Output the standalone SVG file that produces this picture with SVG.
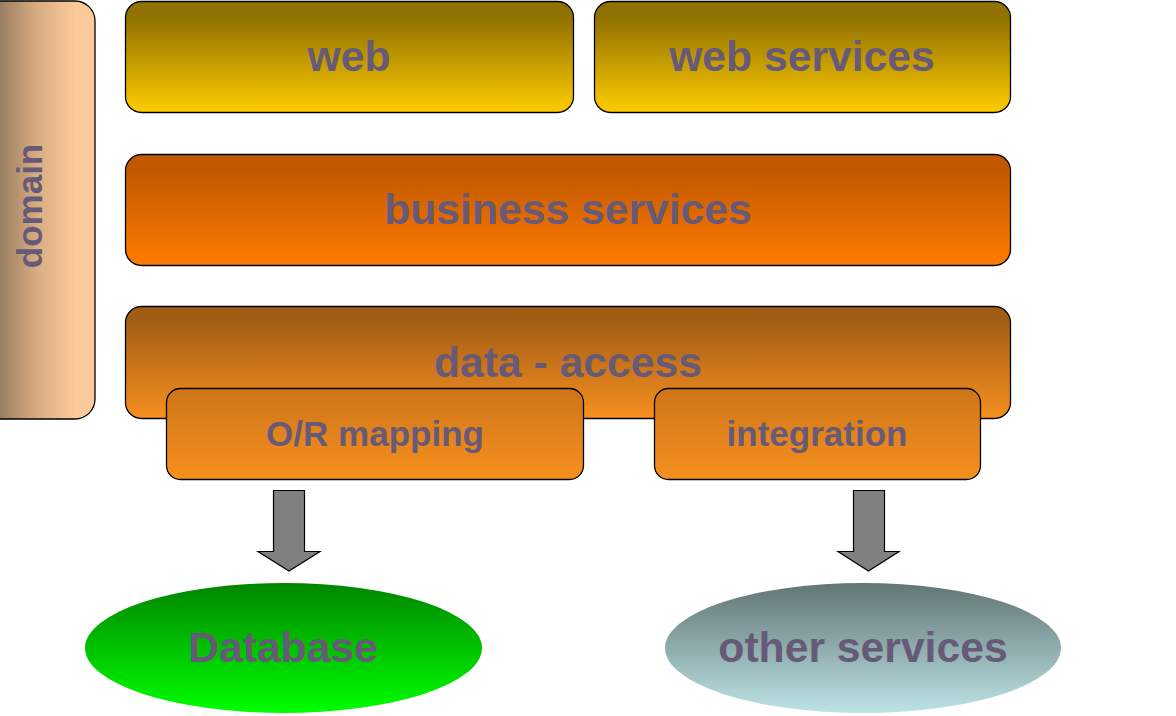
<svg xmlns="http://www.w3.org/2000/svg" width="1176" height="716" viewBox="0 0 1176 716">
<style>
.box{stroke:#000;stroke-width:1.3}
.t{font-family:"Liberation Sans",Arial,sans-serif;font-weight:bold;fill:#675a78;text-anchor:middle}
.big{font-size:42.67px}
.mid{font-size:35px}
.arrow{fill:#808080;stroke:#000;stroke-width:1.2}
</style>
<defs>
<linearGradient id="gDomain" gradientUnits="userSpaceOnUse" x1="0" y1="0" x2="95" y2="0"><stop offset="0" stop-color="#9a7e62"/><stop offset="0.4" stop-color="#d9ae82"/><stop offset="0.8" stop-color="#fbca9b"/><stop offset="1" stop-color="#fbca9b"/></linearGradient>
<linearGradient id="gWeb" x1="0" y1="0" x2="0" y2="1"><stop offset="0.15" stop-color="#917100"/><stop offset="1" stop-color="#ffcc00"/></linearGradient>
<linearGradient id="gBiz" x1="0" y1="0" x2="0" y2="1"><stop offset="0.15" stop-color="#c25900"/><stop offset="1" stop-color="#ff7b00"/></linearGradient>
<linearGradient id="gData" x1="0" y1="0" x2="0" y2="1"><stop offset="0.1" stop-color="#a15c15"/><stop offset="1" stop-color="#f7901f"/></linearGradient>
<linearGradient id="gSub" x1="0" y1="0" x2="0" y2="1"><stop offset="0" stop-color="#cd7519"/><stop offset="1" stop-color="#f7901f"/></linearGradient>
<linearGradient id="gDb" x1="0" y1="0" x2="0" y2="1"><stop offset="0" stop-color="#008500"/><stop offset="1" stop-color="#00ff00"/></linearGradient>
<linearGradient id="gOther" x1="0" y1="0" x2="0" y2="1"><stop offset="0" stop-color="#627575"/><stop offset="1" stop-color="#bde3e5"/></linearGradient>
</defs>
<rect width="1176" height="716" fill="#fff"/>
<g id="domain">
<rect class="box" x="-30" y="1" width="125" height="418" rx="20" ry="20" fill="url(#gDomain)"/>
<text class="t mid" transform="translate(42,206) rotate(-90)">domain</text>
</g>
<g id="web">
<rect class="box" x="125.5" y="1.5" width="448" height="111" rx="16" ry="16" fill="url(#gWeb)"/>
<text class="t big" x="349" y="71">web</text>
</g>
<g id="web-services">
<rect class="box" x="594.5" y="1.5" width="416" height="111" rx="16" ry="16" fill="url(#gWeb)"/>
<text class="t big" x="802" y="71">web services</text>
</g>
<g id="business-services">
<rect class="box" x="125.5" y="154.5" width="885" height="111" rx="16" ry="16" fill="url(#gBiz)"/>
<text class="t big" x="568" y="224">business services</text>
</g>
<g id="data-access">
<rect class="box" x="125.5" y="306.5" width="885" height="112" rx="16" ry="16" fill="url(#gData)"/>
<text class="t big" x="568" y="377">data - access</text>
</g>
<g id="or-mapping">
<rect class="box" x="166.5" y="388.5" width="417" height="91" rx="14" ry="14" fill="url(#gSub)"/>
<text class="t mid" x="375" y="446">O/R mapping</text>
</g>
<g id="integration">
<rect class="box" x="654.5" y="388.5" width="326" height="91" rx="14" ry="14" fill="url(#gSub)"/>
<text class="t mid" x="817" y="446">integration</text>
</g>
<g id="connectors">
<polygon class="arrow" points="273.5,490.5 304.5,490.5 304.5,551.5 320,551.5 289,571 258,551.5 273.5,551.5"/>
<polygon class="arrow" points="853.5,490.5 884.5,490.5 884.5,551.5 899,551.5 868.5,571 838,551.5 853.5,551.5"/>
</g>
<g id="database">
<ellipse cx="283.5" cy="648" rx="198.5" ry="65" fill="url(#gDb)"/>
<text class="t big" x="283" y="662">Database</text>
</g>
<g id="other-services">
<ellipse cx="863" cy="648" rx="198" ry="65" fill="url(#gOther)"/>
<text class="t big" x="863" y="662">other services</text>
</g>
</svg>
